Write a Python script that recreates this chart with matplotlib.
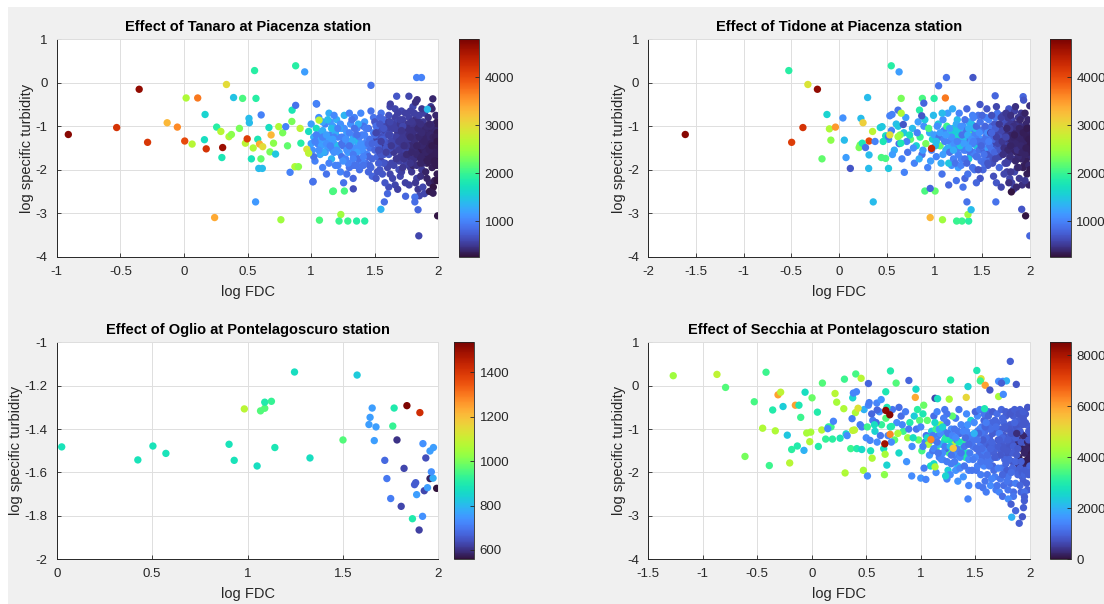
# scatter of specific turbidity vs flow duration, four stations, MATLAB look

import matplotlib.pyplot as plt
import numpy as np
from matplotlib.patches import Rectangle

plt.rcParams['font.family'] = 'Liberation Sans'
plt.rcParams['axes.unicode_minus'] = False

# ---------------- Tanaro at Piacenza ----------------
tanaro_x = [-0.909, -0.529, -0.352, -0.286, -0.132, -0.052, 0.006, 0.017, 0.064, 0.108,
            0.161, 0.166, 0.175, 0.241, 0.257, 0.29, 0.304, 0.298, 0.334, 0.354,
            0.373, 0.39, 0.436, 0.461, 0.483, 0.497, 0.511, 0.514, 0.53, 0.544,
            0.555, 0.563, 0.566, 0.58, 0.588, 0.616, 0.594, 0.607, 0.605, 0.619,
            0.668, 0.676, 0.685, 0.704, 0.72, 0.745, 0.762, 0.776, 0.80, 0.814,
            0.834, 0.848, 0.85, 0.878, 0.878, 0.872, 0.90, 0.913, 0.919, 0.949,
            0.966, 0.98, 0.98, 1.015, 1.043, 1.062, 1.175, 1.261, 1.233, 1.065,
            1.219, 1.288, 1.357, 1.421, 1.47, 1.829, 1.867, 1.846, 1.994, 1.84,
            1.548, 1.575, 1.672, 1.768, 1.833, 1.956, 1.914, 1.622, 1.04, 1.169,
            1.255, 1.331, 1.013, 1.60, 1.742, 1.815, 1.815, 1.958, 1.878, 1.82]
tanaro_y = [-1.19, -1.03, -0.15, -1.37, -0.92, -1.02, -1.34, -0.35, -1.41, -0.35,
            -1.31, -0.73, -1.52, -3.10, -1.02, -1.12, -1.49, -1.72, -0.04, -1.24,
            -1.19, -0.34, -1.05, -0.36, -1.39, -1.29, -0.82, -0.92, -1.75, -1.50,
            0.28, -2.74, -0.36, -1.30, -1.97, -1.97, -1.41, -0.74, -1.75, -1.47,
            -1.03, -1.59, -1.20, -1.39, -1.64, -1.01, -3.15, -1.15, -1.01, -1.45,
            -2.06, -0.89, -0.63, -0.52, 0.39, -1.93, -1.93, -1.05, -1.39, 0.25,
            -1.53, -1.62, -1.12, -2.27, -0.49, -0.86, -2.49, -2.49, -3.03, -3.16,
            -3.18, -3.18, -3.18, -3.18, -0.06, 0.12, 0.12, -3.52, -3.06, -2.92,
            -2.91, -2.74, -0.31, -0.31, -0.39, -0.37, -0.61, -0.49, -0.48, -2.50,
            -2.30, -2.44, -2.28, -2.55, -2.61, -2.63, -2.74, -2.54, -2.40, -0.45]
tanaro_q = [4700, 4200, 4650, 4150, 3300, 3600, 4000, 2600, 2650, 3700,
            1700, 1600, 4200, 3400, 1900, 2650, 4600, 1800, 3000, 2600,
            2400, 1450, 2300, 2100, 2700, 4100, 1400, 1400, 1750, 2600,
            1900, 1150, 1900, 1800, 1400, 1400, 3400, 1000, 2200, 3000,
            1700, 2300, 3300, 2400, 1500, 2600, 2500, 2300, 1000, 2200,
            1000, 2300, 1800, 900, 1900, 2600, 2400, 2700, 1900, 1200,
            2900, 2700, 1700, 900, 900, 2700, 2100, 2100, 2500, 2100,
            2000, 2000, 1900, 1900, 900, 1000, 1000, 600, 300, 800,
            1350, 850, 700, 600, 450, 400, 1400, 550, 1000, 2100,
            900, 650, 900, 800, 800, 900, 850, 350, 600, 450]

# dense cloud
tanaro_cloud_x = [1.00, 1.01, 1.02, 1.03, 1.04, 1.05, 1.06, 1.07, 1.08, 1.09,
                  1.10, 1.11, 1.12, 1.13, 1.14, 1.15, 1.16, 1.17, 1.18, 1.19,
                  1.20, 1.21, 1.22, 1.23, 1.24, 1.02, 1.06, 1.11, 1.15, 1.19,
                  1.04, 1.08, 1.13, 1.17, 1.21, 1.23, 1.09, 1.14, 1.18, 1.24,
                  1.25, 1.26, 1.27, 1.28, 1.29, 1.30, 1.31, 1.32, 1.33, 1.34,
                  1.35, 1.36, 1.37, 1.38, 1.39, 1.40, 1.41, 1.42, 1.43, 1.44,
                  1.45, 1.46, 1.47, 1.48, 1.49, 1.26, 1.29, 1.32, 1.35, 1.38,
                  1.41, 1.44, 1.47, 1.27, 1.30, 1.33, 1.36, 1.39, 1.42, 1.45,
                  1.28, 1.31, 1.34, 1.37, 1.40, 1.43, 1.46, 1.49, 1.33, 1.48,
                  1.50, 1.51, 1.52, 1.53, 1.54, 1.55, 1.56, 1.57, 1.58, 1.59,
                  1.60, 1.61, 1.62, 1.63, 1.64, 1.65, 1.66, 1.67, 1.68, 1.69,
                  1.70, 1.71, 1.72, 1.73, 1.74, 1.50, 1.53, 1.56, 1.59, 1.62,
                  1.65, 1.68, 1.71, 1.74, 1.51, 1.54, 1.57, 1.60, 1.63, 1.66,
                  1.69, 1.72, 1.52, 1.55, 1.58, 1.61, 1.64, 1.67, 1.70, 1.73,
                  1.55, 1.58, 1.61, 1.64, 1.67, 1.70, 1.73, 1.57, 1.63, 1.69,
                  1.52, 1.60, 1.66, 1.72, 1.54, 1.62, 1.68, 1.74, 1.58, 1.71,
                  1.75, 1.76, 1.77, 1.78, 1.79, 1.80, 1.81, 1.82, 1.83, 1.84,
                  1.85, 1.86, 1.87, 1.88, 1.89, 1.90, 1.91, 1.92, 1.93, 1.94,
                  1.95, 1.96, 1.97, 1.98, 1.99, 1.76, 1.79, 1.82, 1.85, 1.88,
                  1.91, 1.94, 1.97, 2.00, 1.77, 1.80, 1.83, 1.86, 1.89, 1.92,
                  1.95, 1.98, 2.00, 1.78, 1.81, 1.84, 1.87, 1.90, 1.93, 1.96,
                  1.99, 1.75, 1.78, 1.81, 1.84, 1.87, 1.90, 1.93, 1.96, 1.99,
                  1.76, 1.80, 1.83, 1.86, 1.89, 1.92, 1.95, 1.98, 2.00, 1.97,
                  1.79, 1.82, 1.88, 1.91, 1.94, 1.97, 2.00, 1.85, 1.99, 1.93,
                  1.76, 1.78, 1.80, 1.82, 1.84, 1.86, 1.88, 1.90, 1.92, 1.94,
                  1.96, 1.98, 2.00, 1.77, 1.79, 1.81, 1.83, 1.85, 1.87, 1.89,
                  1.91, 1.93, 1.95, 1.97, 1.99, 1.76, 1.80, 1.84, 1.88, 1.92,
                  1.96, 2.00, 1.78, 1.82, 1.86, 1.90, 1.94, 1.98, 1.81, 1.87,
                  1.93, 1.99, 1.64, 1.66, 1.68, 1.70, 1.72, 1.74, 1.62, 1.60,
                  1.58, 1.56, 1.54, 1.52, 1.50, 1.63, 1.67, 1.71, 1.75, 1.59,
                  1.55, 1.51, 1.65, 1.69, 1.73, 1.61, 1.57, 1.53, 1.68, 1.72,
                  1.46, 1.44, 1.42, 1.40, 1.38, 1.36, 1.34, 1.32, 1.30, 1.28,
                  1.26, 1.24, 1.22, 1.20, 1.18, 1.16, 1.14, 1.12, 1.10, 1.08,
                  1.45, 1.41, 1.37, 1.33, 1.29, 1.25, 1.21, 1.17, 1.13, 1.09,
                  1.51, 1.53, 1.55, 1.57, 1.59, 1.61, 1.63, 1.65, 1.67, 1.69,
                  1.71, 1.73, 1.75, 1.77, 1.79, 1.81, 1.83, 1.85, 1.87, 1.89,
                  1.91, 1.93, 1.95, 1.97, 1.99, 1.54, 1.62, 1.70, 1.78, 1.86,
                  1.00, 1.03, 1.06, 1.09, 1.12, 1.15, 1.18, 1.21, 1.24, 1.27,
                  1.30, 1.33, 1.36, 1.39, 1.42, 1.45, 1.48, 1.35, 1.41, 1.47]
tanaro_cloud_y = [-0.95, -1.55, -1.25, -1.80, -1.05, -1.40, -0.80, -1.65, -1.15, -1.95,
                  -1.30, -0.95, -2.10, -1.50, -0.70, -1.20, -1.75, -1.00, -1.40, -1.90,
                  -0.85, -1.25, -1.60, -2.05, -1.05, -1.70, -1.30, -1.60, -0.90, -1.15,
                  -1.20, -1.45, -1.30, -1.55, -1.45, -0.95, -0.90, -1.85, -0.75, -1.70,
                  -1.45, -0.75, -1.75, -1.15, -1.35, -1.95, -0.95, -1.55, -1.25, -0.80,
                  -1.70, -1.05, -1.40, -2.00, -0.70, -1.20, -1.60, -0.90, -1.85, -1.30,
                  -1.05, -1.50, -0.65, -1.75, -1.15, -1.05, -1.60, -0.85, -1.20, -1.50,
                  -1.00, -1.65, -1.35, -1.25, -0.70, -1.90, -1.30, -1.85, -1.45, -2.05,
                  -2.10, -1.40, -1.50, -0.95, -1.80, -1.05, -1.90, -0.80, -2.20, -2.15,
                  -0.90, -1.30, -1.70, -1.10, -2.00, -0.70, -1.50, -1.20, -1.85, -0.95,
                  -1.40, -1.65, -0.55, -1.05, -2.20, -1.30, -0.80, -1.75, -1.15, -2.00,
                  -1.45, -0.65, -1.25, -1.90, -1.00, -1.55, -1.45, -2.10, -1.60, -1.20,
                  -1.60, -0.90, -1.55, -2.30, -2.20, -1.25, -0.85, -1.05, -1.85, -2.35,
                  -1.20, -0.85, -1.00, -1.80, -1.40, -2.40, -0.95, -1.40, -2.15, -1.65,
                  -1.05, -1.10, -0.90, -1.50, -1.05, -0.95, -1.35, -1.65, -1.25, -1.80,
                  -2.05, -1.95, -0.60, -1.10, -0.80, -2.10, -2.45, -0.70, -2.30, -2.05,
                  -1.15, -1.60, -0.80, -1.95, -1.35, -0.55, -1.75, -1.05, -2.20, -1.45,
                  -0.90, -1.25, -2.00, -1.60, -0.70, -1.40, -1.85, -1.10, -2.30, -0.55,
                  -1.30, -1.70, -0.95, -1.50, -2.10, -1.35, -2.05, -0.85, -1.55, -1.05,
                  -1.55, -1.15, -2.25, -1.25, -2.35, -1.20, -1.65, -2.15, -1.20, -0.80,
                  -1.95, -0.75, -1.75, -0.65, -1.40, -2.45, -0.60, -2.05, -1.45, -1.05,
                  -1.45, -1.85, -1.50, -1.00, -1.25, -1.35, -1.05, -1.65, -2.40, -0.90,
                  -0.95, -1.90, -0.75, -1.75, -2.55, -1.30, -0.60, -1.90, -1.55, -1.60,
                  -1.15, -2.30, -1.85, -2.20, -1.80, -1.20, -1.00, -2.60, -2.25, -2.50,
                  -1.05, -1.45, -0.95, -1.60, -1.10, -1.45, -0.90, -1.75, -1.35, -1.00,
                  -1.40, -1.10, -1.90, -1.70, -0.90, -1.50, -1.90, -0.75, -1.70, -1.55,
                  -1.00, -1.20, -1.65, -1.35, -1.15, -1.25, -1.10, -1.05, -1.25, -1.65,
                  -1.25, -1.35, -1.85, -1.30, -0.95, -1.60, -1.40, -1.25, -0.70, -1.45,
                  -0.95, -1.65, -1.25, -1.45, -1.30, -1.70, -1.00, -1.55, -1.50, -1.20,
                  -1.35, -1.30, -1.60, -1.40, -1.20, -1.35, -1.25, -1.30, -1.45, -1.50,
                  -1.65, -1.00, -1.90, -1.55, -1.75, -0.75, -1.85, -1.85, -0.70, -1.95,
                  -1.30, -1.05, -1.40, -1.50, -1.25, -1.60, -1.05, -1.35, -1.15, -1.55,
                  -1.35, -1.25, -1.05, -1.55, -1.25, -1.05, -1.30, -1.40, -1.60, -1.30,
                  -1.70, -1.90, -1.75, -1.65, -1.85, -1.80, -1.90, -1.30, -0.85, -1.10,
                  -1.15, -1.55, -1.35, -1.05, -1.60, -1.20, -1.45, -1.05, -1.75, -1.35,
                  -1.10, -1.45, -1.65, -1.20, -1.60, -1.30, -1.45, -1.25, -1.15, -1.35,
                  -1.80, -1.55, -1.45, -1.80, -1.35, -0.95, -0.90, -0.85, -1.25, -1.85,
                  -1.40, -1.35, -1.55, -1.25, -1.20, -1.45, -1.60, -1.05, -1.40, -1.30,
                  -1.45, -1.75, -1.20, -1.40, -1.20, -1.40, -1.40, -1.90, -1.70, -1.95]
tanaro_cloud_q = [1200, 1100, 1300, 1000, 1700, 1000, 1100, 1250, 1300, 1000,
                  1450, 1000, 900, 1200, 1300, 1000, 1350, 1200, 1150, 1000,
                  1300, 1000, 1200, 1000, 1200, 900, 1100, 1050, 1150, 1300,
                  1000, 1200, 900, 1000, 1400, 1100, 1250, 1000, 1050, 900,
                  900, 1350, 1000, 1200, 1050, 900, 1100, 1000, 1300, 1000,
                  1150, 1000, 1300, 900, 1050, 1000, 1100, 1150, 900, 1050,
                  800, 900, 900, 800, 1000, 1100, 1200, 900, 1000, 1100,
                  900, 1000, 800, 1200, 1000, 900, 1400, 900, 1000, 800,
                  900, 1000, 1100, 1300, 1000, 1000, 800, 900, 800, 800,
                  700, 600, 800, 650, 700, 900, 600, 700, 650, 600,
                  550, 700, 600, 650, 600, 800, 550, 600, 500, 650,
                  550, 600, 500, 600, 550, 800, 750, 700, 900, 600,
                  500, 600, 450, 550, 700, 650, 800, 550, 600, 600,
                  500, 550, 900, 600, 500, 650, 550, 500, 600, 500,
                  650, 600, 550, 500, 550, 500, 450, 700, 500, 550,
                  700, 600, 600, 500, 800, 600, 550, 550, 700, 550,
                  500, 450, 550, 500, 400, 600, 450, 500, 550, 400,
                  450, 400, 500, 380, 550, 420, 350, 500, 400, 500,
                  400, 350, 450, 380, 320, 500, 500, 450, 350, 450,
                  400, 380, 350, 330, 550, 450, 400, 450, 380, 450,
                  350, 400, 300, 550, 450, 500, 500, 380, 360, 380,
                  320, 550, 450, 420, 400, 380, 400, 360, 300, 350,
                  500, 400, 500, 380, 600, 400, 400, 320, 320, 350,
                  450, 500, 420, 380, 350, 400, 350, 600, 300, 320,
                  450, 420, 480, 400, 450, 380, 500, 360, 400, 420,
                  380, 400, 330, 450, 500, 420, 450, 550, 380, 360,
                  420, 400, 350, 380, 330, 500, 450, 420, 380, 350,
                  360, 320, 480, 430, 450, 380, 360, 350, 550, 400,
                  400, 340, 650, 600, 550, 500, 600, 550, 650, 700,
                  700, 750, 650, 800, 850, 600, 550, 500, 480, 700,
                  700, 850, 600, 520, 480, 650, 700, 750, 560, 500,
                  900, 950, 1000, 1100, 1000, 1200, 900, 1300, 1000, 1100,
                  1200, 1000, 1300, 1100, 1000, 1400, 1200, 1100, 1300, 1200,
                  800, 900, 850, 950, 1000, 1100, 1000, 1200, 1400, 1300,
                  600, 650, 550, 700, 550, 600, 500, 550, 500, 500,
                  480, 450, 420, 450, 400, 430, 380, 400, 420, 380,
                  350, 360, 330, 320, 310, 700, 600, 550, 420, 380,
                  1200, 1000, 1100, 1000, 1200, 1000, 1100, 1000, 900, 1100,
                  900, 1000, 900, 1100, 1000, 900, 800, 900, 1000, 800]

# ---------------- Tidone at Piacenza ----------------
tidone_x = [-1.611, -0.526, -0.326, -0.226, -0.378, -0.496, -0.126, -0.10, -0.037, -0.085,
            -0.178, 0.041, 0.056, 0.074, 0.119, 0.30, 0.23, 0.252, 0.315, 0.211,
            0.222, 0.244, 0.278, 0.315, 0.311, 0.359, 0.352, 0.378, 0.433, 0.452,
            0.444, 0.489, 0.463, 0.489, 0.519, 0.533, 0.519, 0.548, 0.63, 0.533,
            0.556, 0.619, 0.652, 0.652, 0.619, 0.648, 0.685, 0.674, 0.874, 0.889,
            0.844, 0.867, 0.997, 1.115, 1.044, 1.126, 1.404, 1.081, 0.97, 0.90,
            1.007, 0.956, 0.956, 1.085, 1.233, 1.289, 1.359, 1.352, 1.385, 1.341,
            1.644, 1.637, 1.478, 1.807, 1.956, 1.915, 2.0, 2.0, 1.93, 1.935]
tidone_y = [-1.19, 0.28, -0.04, -0.15, -1.03, -1.37, -0.73, -1.06, -1.02, -1.32,
            -1.75, -0.81, -1.32, -1.72, -1.97, -0.34, -0.82, -0.92, -1.34, -1.49,
            -1.43, -1.39, -1.49, -1.66, -1.97, -2.74, -1.12, -1.35, -1.03, -1.01,
            -1.72, -1.74, -1.35, -1.22, -1.24, -1.20, -1.97, 0.39, 0.25, -0.76,
            -0.73, -0.63, -0.36, -0.70, -1.24, -1.39, -2.06, -0.96, -0.36, -0.47,
            -0.63, -0.76, -0.36, -0.35, -0.07, 0.12, 0.12, -0.70, -1.51, -2.49,
            -2.49, -2.43, -3.10, -3.15, -3.18, -3.18, -3.18, -3.03, -2.92, -2.74,
            -2.74, -0.30, -0.50, -2.51, -3.06, -2.91, -3.52, -0.53, -0.32, -0.40]
tidone_q = [4700, 1900, 2900, 4650, 4200, 4100, 1600, 2600, 3500, 2400,
            2200, 1100, 1400, 1200, 700, 1400, 1400, 3100, 4000, 2300,
            2300, 1800, 900, 1400, 1400, 1400, 2700, 1000, 1600, 1500,
            2100, 2100, 1800, 1700, 900, 3000, 1500, 1900, 1200, 1000,
            1000, 900, 2300, 2600, 2500, 1800, 1000, 700, 2100, 800,
            1900, 700, 1900, 3700, 900, 900, 700, 1400, 4300, 2100,
            2200, 800, 3300, 2500, 2000, 2000, 1900, 2500, 1400, 900,
            900, 800, 700, 300, 300, 700, 800, 450, 800, 700]

tidone_cloud_x = [0.52, 0.55, 0.58, 0.60, 0.63, 0.66, 0.68, 0.70, 0.72, 0.75,
                  0.77, 0.79, 0.81, 0.83, 0.85, 0.87, 0.89, 0.91, 0.93, 0.95,
                  0.97, 0.99, 0.56, 0.64, 0.71, 0.78, 0.84, 0.90, 0.96, 0.62,
                  0.74, 0.82, 0.88, 0.94, 0.98,
                  1.00, 1.02, 1.04, 1.06, 1.08, 1.10, 1.12, 1.14, 1.16, 1.18,
                  1.20, 1.22, 1.24, 1.26, 1.28, 1.30, 1.32, 1.34, 1.36, 1.38,
                  1.40, 1.42, 1.44, 1.46, 1.48, 1.01, 1.05, 1.09, 1.13, 1.17,
                  1.21, 1.25, 1.29, 1.33, 1.37, 1.41, 1.45, 1.49, 1.03, 1.07,
                  1.11, 1.15, 1.19, 1.23, 1.27, 1.31, 1.35, 1.39, 1.43, 1.47,
                  1.09, 1.19, 1.26, 1.34, 1.41, 1.48, 1.15, 1.30, 1.44, 1.36,
                  1.50, 1.52, 1.54, 1.56, 1.58, 1.60, 1.62, 1.64, 1.66, 1.68,
                  1.70, 1.72, 1.74, 1.76, 1.78, 1.80, 1.82, 1.84, 1.86, 1.88,
                  1.90, 1.92, 1.94, 1.96, 1.98, 2.00, 1.51, 1.55, 1.59, 1.63,
                  1.67, 1.71, 1.75, 1.79, 1.83, 1.87, 1.91, 1.95, 1.99, 1.53,
                  1.57, 1.61, 1.65, 1.69, 1.73, 1.77, 1.81, 1.85, 1.89, 1.93,
                  1.97, 1.54, 1.58, 1.62, 1.66, 1.70, 1.74, 1.78, 1.82, 1.86,
                  1.90, 1.94, 1.98, 2.00, 1.76, 1.80, 1.84, 1.88, 1.92, 1.96,
                  1.99, 1.73, 1.77, 1.81, 1.85, 1.89, 1.93, 1.97, 1.83, 1.87,
                  1.91, 1.95, 1.79, 1.64, 1.68, 1.72, 1.60, 1.56, 1.99, 1.95,
                  1.76, 1.78, 1.80, 1.82, 1.84, 1.86, 1.88, 1.90, 1.92, 1.94,
                  1.96, 1.98, 2.00, 1.77, 1.79, 1.81, 1.83, 1.85, 1.87, 1.89,
                  1.91, 1.93, 1.95, 1.97, 1.99, 1.62, 1.66, 1.70, 1.74, 1.58,
                  1.54, 1.50, 1.64, 1.68, 1.72, 1.56, 1.52, 1.60, 1.76, 1.80,
                  1.46, 1.42, 1.38, 1.34, 1.30, 1.26, 1.22, 1.18, 1.14, 1.10,
                  1.06, 1.02, 1.44, 1.40, 1.36, 1.32, 1.28, 1.24, 1.20, 1.16,
                  1.51, 1.53, 1.55, 1.57, 1.59, 1.61, 1.63, 1.65, 1.67, 1.69,
                  1.71, 1.73, 1.75, 1.77, 1.79, 1.81, 1.83, 1.85, 1.87, 1.89,
                  1.91, 1.93, 1.95, 1.97, 1.99, 1.52, 1.56, 1.60, 1.64, 1.68,
                  1.72, 1.76, 1.80, 1.84, 1.88, 1.92, 1.96, 2.00, 1.78, 1.86,
                  1.21, 1.23, 1.25, 1.27, 1.29, 1.31, 1.33, 1.35, 1.37, 1.39,
                  1.41, 1.43, 1.45, 1.47, 1.49, 1.22, 1.28, 1.34, 1.40, 1.46,
                  1.12, 1.16, 1.20, 1.24, 1.28, 1.32, 1.36, 1.40, 1.44, 1.48,
                  1.50, 1.55, 1.60, 1.65, 1.70, 1.75, 1.80, 1.85, 1.90, 1.95]
tidone_cloud_y = [-1.30, -1.10, -1.55, -0.95, -1.40, -1.75, -1.15, -0.80, -1.60, -1.30,
                  -1.05, -1.85, -1.45, -0.90, -1.25, -1.65, -1.00, -1.40, -1.95, -1.15,
                  -1.55, -0.75, -1.65, -1.20, -1.35, -1.50, -1.75, -0.85, -1.80, -1.00,
                  -1.20, -1.15, -1.55, -1.05, -1.30,
                  -1.20, -1.70, -0.95, -1.45, -2.10, -1.10, -1.55, -0.70, -1.35, -1.90,
                  -1.05, -1.50, -0.85, -1.25, -1.75, -1.00, -2.20, -1.40, -0.90, -1.65,
                  -1.15, -2.00, -1.45, -0.75, -1.30, -1.45, -1.25, -1.65, -1.00, -1.15,
                  -1.30, -1.95, -1.50, -1.10, -1.20, -1.60, -1.05, -1.80, -1.00, -1.85,
                  -1.35, -1.85, -1.45, -2.25, -1.05, -1.55, -2.10, -0.95, -1.25, -1.55,
                  -0.85, -0.60, -0.70, -0.60, -0.80, -2.20, -2.35, -2.40, -2.30, -1.75,
                  -1.10, -1.55, -0.80, -1.90, -1.30, -1.00, -2.15, -1.45, -0.70, -1.70,
                  -1.20, -0.90, -1.85, -1.40, -0.60, -1.60, -1.05, -2.05, -1.30, -0.80,
                  -1.50, -1.15, -1.90, -0.95, -1.35, -1.70, -2.00, -1.20, -1.70, -0.95,
                  -1.35, -1.60, -0.95, -2.20, -1.40, -1.95, -0.70, -1.55, -1.05, -1.35,
                  -0.85, -1.40, -2.30, -1.05, -1.30, -1.80, -0.85, -1.15, -2.20, -1.30,
                  -2.10, -1.75, -1.05, -1.75, -1.15, -2.40, -1.10, -1.15, -1.75, -1.60,
                  -1.00, -1.60, -0.85, -1.20, -2.05, -1.30, -0.65, -1.45, -2.35, -1.80,
                  -2.35, -2.10, -1.00, -2.30, -0.95, -1.20, -0.75, -1.50, -2.45, -1.05,
                  -1.75, -1.25, -0.85, -0.80, -1.95, -0.75, -1.25, -1.50, -1.55, -2.25,
                  -1.25, -1.50, -0.95, -1.35, -1.55, -1.00, -1.70, -1.25, -1.05, -1.40,
                  -1.15, -1.60, -1.45, -0.80, -1.70, -1.20, -1.00, -1.80, -1.35, -1.60,
                  -1.30, -1.95, -1.05, -1.25, -1.30, -1.30, -1.50, -1.10, -1.60, -1.45,
                  -1.25, -1.45, -1.05, -1.25, -1.40, -1.15, -1.85, -1.55, -1.85, -2.05,
                  -1.35, -1.20, -1.40, -1.25, -1.30, -1.50, -1.20, -1.25, -1.50, -1.30,
                  -1.15, -1.35, -1.70, -1.40, -1.05, -1.75, -1.40, -1.10, -1.75, -1.05,
                  -1.35, -1.00, -1.65, -1.35, -1.15, -1.85, -1.60, -1.25, -1.40, -1.55,
                  -1.35, -1.50, -1.25, -1.55, -1.05, -1.45, -1.25, -1.40, -1.55, -1.05,
                  -1.45, -1.15, -1.65, -1.05, -1.90, -1.65, -1.85, -1.15, -1.75, -0.95,
                  -1.65, -1.05, -1.45, -1.20, -1.95, -1.60, -1.50, -2.00, -2.30, -2.40,
                  -1.40, -0.95, -1.65, -1.45, -1.20, -1.40, -1.55, -1.20, -1.55, -1.30,
                  -1.35, -1.05, -1.70, -1.15, -1.45, -1.85, -1.90, -1.85, -1.95, -2.00,
                  -1.20, -1.60, -1.55, -1.35, -1.00, -0.85, -1.50, -0.75, -1.00, -0.90,
                  -0.75, -0.60, -0.75, -0.55, -0.80, -0.70, -0.75, -0.55, -0.85, -0.70]
tidone_cloud_q = [1100, 1000, 1300, 1400, 900, 1000, 1500, 1200, 900, 2200,
                  1400, 1000, 1600, 1200, 2000, 900, 1100, 2300, 1000, 1300,
                  1000, 1400, 1200, 2300, 1000, 1100, 1300, 1500, 1200, 1500,
                  1700, 1000, 1200, 2100, 1600,
                  1200, 1000, 1500, 2200, 900, 1000, 1300, 1200, 1000, 1100,
                  1600, 900, 1400, 1800, 1000, 1100, 800, 1000, 1300, 900,
                  1000, 900, 1500, 900, 1100, 1400, 900, 1200, 2000, 1500,
                  1000, 1200, 1400, 900, 2100, 1000, 800, 900, 1100, 1300,
                  1000, 1500, 1200, 900, 1300, 1000, 900, 1400, 1000, 900,
                  1100, 1300, 1000, 800, 1000, 700, 800, 900, 800, 1500,
                  900, 800, 1000, 700, 1300, 800, 650, 1000, 900, 600,
                  550, 700, 600, 500, 700, 450, 550, 600, 450, 500,
                  400, 450, 380, 400, 350, 400, 800, 1100, 700, 700,
                  800, 500, 650, 600, 400, 450, 500, 380, 380, 900,
                  1000, 600, 700, 500, 450, 550, 550, 400, 500, 400,
                  350, 900, 900, 700, 600, 600, 500, 450, 500, 380,
                  450, 380, 400, 350, 550, 400, 550, 380, 450, 350,
                  380, 600, 500, 550, 450, 400, 450, 350, 600, 400,
                  380, 350, 600, 900, 800, 600, 1000, 1200, 350, 500,
                  450, 420, 500, 400, 380, 480, 420, 400, 450, 380,
                  360, 350, 330, 500, 430, 400, 450, 400, 380, 360,
                  380, 350, 400, 350, 330, 800, 700, 600, 500, 900,
                  900, 1000, 750, 650, 600, 1100, 850, 900, 550, 500,
                  900, 1000, 1200, 900, 1400, 1000, 1600, 1100, 1300, 1000,
                  1200, 1400, 900, 1000, 1300, 900, 1100, 1500, 1000, 1200,
                  900, 800, 700, 1000, 600, 650, 800, 550, 600, 700,
                  500, 450, 600, 400, 500, 450, 380, 400, 450, 380,
                  400, 350, 380, 330, 400, 900, 700, 800, 600, 500,
                  450, 400, 380, 350, 400, 380, 350, 330, 450, 400,
                  1100, 1300, 1000, 1500, 900, 1200, 1000, 1300, 900, 1100,
                  1000, 1400, 900, 1100, 800, 900, 1000, 800, 900, 700,
                  1200, 900, 1300, 1000, 1100, 900, 1200, 1000, 800, 900,
                  800, 700, 650, 600, 550, 500, 450, 450, 400, 380]

# ---------------- Oglio at Pontelagoscuro ----------------
oglio_x = [0.026, 0.425, 0.504, 0.572, 0.903, 0.930, 0.983, 1.050, 1.068, 1.090,
           1.090, 1.125, 1.143, 1.246, 1.327, 1.500, 1.574, 1.653, 1.642, 1.636,
           1.673, 1.664, 1.768, 1.761, 1.783, 1.835, 1.903, 1.719, 1.730, 1.750,
           1.805, 1.820, 1.875, 1.881, 1.886, 1.864, 1.899, 1.919, 1.934, 1.926,
           1.943, 1.956, 1.972, 1.917, 1.956, 1.974, 1.963, 1.991]
oglio_y = [-1.482, -1.542, -1.478, -1.512, -1.470, -1.544, -1.307, -1.570, -1.316, -1.304,
           -1.276, -1.272, -1.485, -1.137, -1.533, -1.450, -1.151, -1.303, -1.346, -1.379,
           -1.390, -1.453, -1.303, -1.386, -1.450, -1.292, -1.324, -1.544, -1.628, -1.720,
           -1.756, -1.581, -1.656, -1.647, -1.702, -1.813, -1.865, -1.467, -1.533, -1.684,
           -1.670, -1.628, -1.626, -1.802, -1.501, -1.485, -1.597, -1.673]
oglio_q = [880, 880, 880, 880, 880, 880, 1080, 870, 960, 960,
           900, 930, 890, 870, 870, 960, 830, 760, 760, 760,
           760, 760, 900, 930, 600, 1530, 1420, 680, 700, 710,
           630, 630, 660, 660, 760, 900, 620, 740, 640, 630,
           760, 580, 780, 740, 760, 760, 740, 560]

# ---------------- Secchia at Pontelagoscuro ----------------
secchia_x = [-1.270, -0.869, -0.790, -0.612, -0.527, -0.419, -0.45, -0.389, -0.358, -0.334,
             -0.309, -0.285, -0.263, -0.224, -0.202, -0.184, -0.150, -0.117, -0.132, -0.101,
             -0.071, -0.061, -0.046, -0.018, -0.009, 0.003, 0.052, 0.061, 0.092, 0.098,
             0.128, 0.153, 0.177, 0.19, 0.214, 0.229, 0.199, 0.147, 0.26, 0.294,
             0.300, 0.306, 0.315, 0.325, 0.358, 0.376, 0.382, 0.410, 0.404, 0.376,
             0.392, 0.401, 0.425, 0.413, 0.453, 0.37, 0.444, 0.459, 0.474, 0.511,
             0.520, 0.527, 0.535, 0.554, 0.575, 0.597, 0.60, 0.637, 0.667, 0.679,
             0.716, 0.670, 0.679, 0.722, 0.774, 0.719, 0.673, 0.689, 0.732, 0.80,
             0.891, 0.95, 0.956, 1.027, 1.131, 1.154, 1.274, 1.261, 1.433, 1.417,
             1.514, 1.553, 1.546, 1.591, 1.634, 1.714, 1.753, 1.786, 1.740, 1.821,
             1.876, 1.714, 1.757, 1.585, 1.802, 1.828, 1.870, 1.834, 1.932, 1.903,
             1.942, 1.951, 1.433, 0.917, 1.0, 1.047, 1.228, 1.131, 1.093, 1.298]
secchia_y = [0.23, 0.26, -0.04, -1.63, -0.37, 0.31, -0.98, -1.84, -0.56, -1.04,
             -0.21, -0.15, -0.48, -1.14, -1.78, -1.47, -0.45, -0.45, -1.39, -0.73,
             -1.49, -0.15, -1.09, -1.29, -1.07, -0.28, -0.61, -1.40, -1.02, 0.06,
             -1.23, -0.95, -0.95, -1.23, -0.18, -0.38, -0.82, -0.99, -1.21, -0.53,
             0.15, -2.01, -1.11, -1.15, -1.45, -0.28, -0.17, -0.14, 0.27, -1.03,
             -1.02, -0.62, -0.52, -1.45, 0.17, -0.76, -0.90, -1.47, -1.95, -2.08,
             0.05, -0.39, -1.26, -1.67, -0.90, -0.40, -0.56, -0.32, -2.05, -0.57,
             -0.67, -1.34, -0.14, 0.34, 0.06, -1.12, -1.58, -1.83, -0.94, -0.50,
             0.12, -0.27, -0.08, -0.45, -0.29, -0.30, 0.13, -0.31, -0.02, -0.27,
             0.35, 0.16, 0.11, 0.01, -0.10, 0.10, 0.10, 0.11, 0.06, 0.56,
             0.03, -0.25, -0.20, -0.53, -2.61, -2.73, -2.88, -3.03, -3.02, -3.17,
             -2.81, -2.56, -2.61, -2.08, -2.13, -2.16, -2.08, -1.87, -1.24, -1.44]
secchia_q = [4200, 4600, 3500, 3800, 3400, 3300, 4400, 3300, 3000, 4400,
             6000, 4600, 2400, 2300, 4500, 3100, 6000, 2900, 3000, 3300,
             2000, 2700, 4300, 4400, 4300, 3700, 3000, 3000, 4500, 3500,
             3200, 3100, 3300, 3100, 4500, 4300, 1400, 1500, 2900, 4400,
             3300, 4400, 2500, 1500, 3300, 2500, 1400, 1400, 3400, 4600,
             4600, 4400, 5000, 3000, 4500, 1300, 1300, 2600, 4300, 1500,
             1000, 1300, 1400, 4400, 2700, 1400, 1000, 1600, 4000, 8300,
             8400, 8100, 2900, 3000, 3500, 6300, 4300, 2500, 3000, 1100,
             1000, 5900, 2600, 3700, 600, 2700, 3000, 4300, 2500, 5200,
             2900, 5000, 3300, 6000, 800, 1500, 1500, 2000, 900, 900,
             800, 4300, 1500, 2900, 1500, 900, 1000, 2000, 800, 900,
             900, 900, 1400, 1500, 1600, 1400, 2500, 4400, 6300, 5500]

secchia_cloud_x = [0.46, 0.48, 0.50, 0.52, 0.54, 0.56, 0.58, 0.60, 0.62, 0.64,
                   0.66, 0.68, 0.70, 0.72, 0.74, 0.76, 0.78, 0.80, 0.82, 0.84,
                   0.86, 0.88, 0.90, 0.92, 0.94, 0.96, 0.98, 0.51, 0.59, 0.69,
                   0.79, 0.89, 0.97, 0.63, 0.73, 0.83, 0.93, 0.55, 0.87, 0.99,
                   1.00, 1.02, 1.04, 1.06, 1.08, 1.10, 1.12, 1.14, 1.16, 1.18,
                   1.20, 1.22, 1.24, 1.26, 1.28, 1.30, 1.32, 1.34, 1.36, 1.38,
                   1.40, 1.42, 1.44, 1.46, 1.48, 1.01, 1.05, 1.09, 1.13, 1.17,
                   1.21, 1.25, 1.29, 1.33, 1.37, 1.41, 1.45, 1.49, 1.03, 1.07,
                   1.11, 1.15, 1.19, 1.23, 1.27, 1.31, 1.35, 1.39, 1.43, 1.47,
                   1.14, 1.24, 1.34, 1.44, 1.12, 1.22, 1.32, 1.42, 1.28, 1.38,
                   1.50, 1.52, 1.54, 1.56, 1.58, 1.60, 1.62, 1.64, 1.66, 1.68,
                   1.70, 1.72, 1.74, 1.76, 1.78, 1.80, 1.82, 1.84, 1.86, 1.88,
                   1.90, 1.92, 1.94, 1.96, 1.98, 2.00, 1.51, 1.55, 1.59, 1.63,
                   1.67, 1.71, 1.75, 1.79, 1.83, 1.87, 1.91, 1.95, 1.99, 1.53,
                   1.57, 1.61, 1.65, 1.69, 1.73, 1.77, 1.81, 1.85, 1.89, 1.93,
                   1.97, 1.54, 1.58, 1.62, 1.66, 1.70, 1.74, 1.78, 1.82, 1.86,
                   1.90, 1.94, 1.98, 2.00, 1.76, 1.80, 1.84, 1.88, 1.92, 1.96,
                   1.99, 1.73, 1.77, 1.81, 1.85, 1.89, 1.93, 1.97, 1.64, 1.60,
                   1.95, 1.97, 1.91, 2.00, 1.98, 1.94, 1.56, 1.52, 1.68, 1.72,
                   1.76, 1.78, 1.80, 1.82, 1.84, 1.86, 1.88, 1.90, 1.92, 1.94,
                   1.96, 1.98, 2.00, 1.77, 1.79, 1.81, 1.83, 1.85, 1.87, 1.89,
                   1.91, 1.93, 1.95, 1.97, 1.99, 1.62, 1.66, 1.70, 1.74, 1.58,
                   1.54, 1.50, 1.64, 1.68, 1.72, 1.56, 1.52, 1.60, 1.76, 1.80,
                   1.46, 1.42, 1.38, 1.34, 1.30, 1.26, 1.22, 1.18, 1.14, 1.10,
                   1.06, 1.02, 1.44, 1.40, 1.36, 1.32, 1.28, 1.24, 1.20, 1.16,
                   1.51, 1.53, 1.55, 1.57, 1.59, 1.61, 1.63, 1.65, 1.67, 1.69,
                   1.71, 1.73, 1.75, 1.77, 1.79, 1.81, 1.83, 1.85, 1.87, 1.89,
                   1.91, 1.93, 1.95, 1.97, 1.99, 1.52, 1.56, 1.60, 1.64, 1.68,
                   1.72, 1.76, 1.80, 1.84, 1.88, 1.92, 1.96, 2.00, 1.55, 1.59,
                   1.63, 1.67, 1.71, 1.75, 1.79, 1.83, 1.87, 1.91, 1.95, 1.99,
                   1.11, 1.13, 1.15, 1.17, 1.19, 1.21, 1.23, 1.25, 1.27, 1.29,
                   1.31, 1.33, 1.35, 1.37, 1.39, 1.41, 1.43, 1.45, 1.47, 1.49,
                   1.12, 1.16, 1.20, 1.24, 1.28, 1.32, 1.36, 1.40, 1.44, 1.48,
                   1.50, 1.54, 1.58, 1.62, 1.66, 1.70, 1.74, 1.78, 1.82, 1.86,
                   1.90, 1.94, 1.98, 1.60, 1.70, 1.80, 1.65, 1.75, 1.85, 1.95]
secchia_cloud_y = [-0.95, -0.55, -1.20, -0.45, -1.50, -0.80, -1.05, -1.30, -0.60, -0.90,
                   -1.45, -0.75, -1.15, -0.95, -0.55, -1.25, -0.85, -1.55, -0.70, -1.05,
                   -0.60, -1.20, -0.85, -1.40, -0.70, -1.00, -1.25, -0.95, -0.85, -0.50,
                   -1.10, -1.00, -0.55, -1.15, -1.30, -0.90, -1.20, -0.65, -1.75, -0.80,
                   -0.95, -0.65, -1.30, -0.80, -1.60, -1.05, -0.70, -1.45, -1.15, -0.90,
                   -1.70, -1.25, -0.85, -1.55, -1.00, -1.35, -0.75, -1.85, -1.10, -1.50,
                   -0.95, -1.25, -1.95, -0.80, -1.40, -1.50, -1.15, -1.85, -1.25, -1.65,
                   -1.05, -1.95, -0.70, -1.25, -0.90, -1.65, -1.15, -0.85, -1.90, -1.35,
                   -1.50, -0.60, -1.35, -1.45, -2.05, -1.75, -0.55, -2.10, -1.55, -1.95,
                   -2.00, -2.15, -2.20, -2.30, -1.80, -0.55, -1.60, -0.65, -1.20, -1.30,
                   -1.20, -0.70, -1.55, -0.95, -1.85, -1.35, -0.60, -1.70, -1.10, -2.10,
                   -0.85, -1.45, -1.90, -1.15, -0.70, -1.60, -2.25, -1.00, -1.35, -1.95,
                   -0.80, -1.10, -2.20, -0.65, -2.00, -0.95, -1.95, -1.30, -1.05, -1.20,
                   -1.50, -1.25, -0.75, -1.40, -0.60, -1.55, -1.35, -1.75, -1.50, -2.30,
                   -2.35, -2.05, -0.85, -2.40, -1.00, -2.05, -1.20, -2.45, -1.25, -1.45,
                   -1.20, -1.00, -0.80, -1.55, -1.85, -1.05, -1.35, -1.80, -0.90, -1.15,
                   -1.65, -1.85, -1.70, -1.40, -2.30, -1.00, -1.75, -0.95, -2.45, -1.55,
                   -1.85, -2.15, -1.55, -1.35, -0.70, -1.80, -2.10, -2.25, -2.30, -1.75,
                   -1.30, -0.90, -0.55, -1.10, -2.40, -0.75, -1.65, -1.05, -1.45, -2.45,
                   -1.25, -1.00, -1.45, -1.15, -1.55, -0.85, -1.60, -1.05, -1.30, -1.15,
                   -0.85, -1.30, -1.65, -1.70, -1.95, -1.00, -1.30, -1.95, -1.20, -2.05,
                   -1.90, -2.00, -2.05, -1.45, -1.05, -0.95, -1.35, -1.65, -1.55, -1.50,
                   -1.40, -1.65, -1.00, -0.80, -1.10, -1.10, -1.85, -1.20, -0.85, -2.10,
                   -1.15, -1.05, -1.45, -1.05, -1.55, -1.25, -1.40, -1.10, -1.00, -1.25,
                   -1.20, -1.40, -1.70, -1.40, -1.65, -1.95, -1.80, -0.65, -1.55, -1.35,
                   -1.45, -1.10, -1.75, -1.25, -0.95, -1.60, -1.40, -1.30, -1.55, -0.95,
                   -1.40, -1.60, -1.20, -0.95, -1.50, -1.70, -1.10, -1.40, -1.75, -1.45,
                   -1.05, -0.90, -1.55, -1.75, -1.25, -1.25, -1.45, -0.85, -1.45, -1.65,
                   -1.25, -1.45, -1.25, -1.90, -1.10, -1.75, -1.95, -1.85, -2.05, -2.20,
                   -1.85, -1.95, -1.90, -2.05, -2.20, -2.00, -2.25, -2.30, -2.45, -2.05,
                   -1.15, -0.85, -1.30, -1.00, -1.70, -0.75, -1.20, -1.10, -1.40, -1.15,
                   -1.00, -1.45, -1.30, -1.55, -1.05, -1.20, -0.90, -1.55, -1.30, -1.10,
                   -1.45, -1.55, -0.95, -1.75, -1.60, -1.20, -1.90, -1.85, -1.35, -1.70,
                   -0.60, -0.55, -0.65, -0.70, -0.60, -0.65, -0.55, -0.60, -0.65, -0.55,
                   -0.65, -0.60, -0.50, -2.45, -2.30, -2.40, -2.15, -2.55, -2.55, -2.65]
secchia_cloud_q = [1300, 2000, 1500, 1400, 2800, 1300, 2500, 1500, 1600, 3200,
                   2700, 3500, 1400, 2900, 1200, 3600, 1500, 2600, 1100, 3300,
                   1300, 4200, 3000, 1500, 2400, 1200, 3700, 3300, 1100, 2900,
                   4300, 1300, 3100, 1200, 1500, 1400, 2700, 1000, 1600, 3500,
                   1400, 2900, 1300, 3600, 1600, 2400, 1100, 3400, 1300, 4300,
                   1500, 2800, 1200, 3300, 1500, 4200, 1300, 2200, 1100, 2600,
                   1200, 1500, 1300, 2500, 1200, 3400, 1200, 2700, 1500, 1300,
                   1300, 2400, 3600, 1200, 1400, 3000, 1100, 1500, 1300, 4400,
                   1200, 1400, 2300, 1100, 1500, 1300, 1200, 1600, 2800, 1200,
                   1500, 1400, 1600, 1400, 2600, 1200, 1300, 1500, 1200, 3200,
                   1300, 1500, 1100, 1200, 1400, 1000, 1100, 1200, 900, 1300,
                   1000, 900, 1200, 850, 900, 800, 1100, 900, 800, 1000,
                   900, 800, 900, 850, 900, 800, 1200, 1000, 1100, 900,
                   1000, 800, 1000, 900, 850, 800, 200, 150, 100, 1300,
                   1200, 1200, 1000, 1300, 900, 1000, 800, 1100, 300, 150,
                   200, 1400, 1000, 1100, 1000, 900, 850, 1000, 900, 700,
                   150, 250, 120, 100, 1100, 900, 800, 800, 1000, 100,
                   200, 1200, 800, 850, 900, 400, 950, 900, 1500, 1200,
                   1000, 900, 900, 800, 900, 850, 1100, 1300, 1000, 1400,
                   900, 850, 800, 950, 900, 1000, 850, 900, 800, 250,
                   850, 200, 150, 1000, 900, 850, 800, 950, 900, 1000,
                   950, 900, 1000, 200, 850, 1100, 1000, 1200, 950, 1300,
                   1200, 1400, 1100, 1000, 1300, 1200, 1300, 1100, 1000, 1200,
                   1300, 1400, 2400, 1200, 1500, 2800, 1300, 1500, 3300, 1400,
                   2600, 1300, 1500, 1200, 1400, 1600, 1300, 1200, 1500, 2000,
                   1100, 1000, 1200, 900, 1000, 1100, 900, 1000, 950, 1100,
                   900, 850, 1000, 900, 850, 1000, 800, 900, 1000, 850,
                   900, 850, 200, 150, 800, 1200, 1100, 1300, 1000, 900,
                   900, 850, 900, 1000, 300, 950, 900, 1000, 1300, 1200,
                   1200, 1100, 1300, 1000, 1200, 1100, 1300, 1000, 1100, 900,
                   1300, 2600, 1200, 1800, 1400, 1300, 3000, 1200, 2200, 1400,
                   1200, 1300, 2700, 1200, 1400, 1100, 1600, 1300, 1200, 2000,
                   1400, 1200, 2500, 1300, 1200, 1500, 1400, 1200, 1100, 1300,
                   1000, 1300, 1200, 1000, 900, 1100, 1000, 900, 850, 900,
                   850, 900, 800, 1300, 1200, 1200, 1400, 1100, 1200, 900]

# ---------------- figure ----------------
txt = '#262626'
W, H = 1104, 604

fig = plt.figure(figsize=(W / 100, H / 100), dpi=100, facecolor='white')
fig.patches.append(Rectangle((8 / W, 0), 1, 1 - 7 / H, transform=fig.transFigure,
                             facecolor='#f0f0f0', edgecolor='none', zorder=-10))


def make_panel(rect, crect, x, y, q, clim, xt, yt, ct, title, ylab):
    ax = fig.add_axes(rect)
    cax = fig.add_axes(crect)
    sc = ax.scatter(x, y, c=q, cmap='turbo', vmin=clim[0], vmax=clim[1],
                    s=28, linewidths=0, zorder=3)
    ax.set_xlim(xt[0], xt[-1])
    ax.set_ylim(yt[0], yt[-1])
    ax.set_xticks(xt)
    ax.set_yticks(yt)
    ax.set_xticklabels([f'{v:g}' for v in xt])
    ax.set_yticklabels([f'{v:g}' for v in yt])
    ax.grid(True, color='#dedede', linewidth=0.7)
    ax.set_axisbelow(True)
    ax.tick_params(direction='in', length=3, width=0.6, colors=txt,
                   labelsize=9.5, pad=6.5)
    for s in ['left', 'bottom']:
        ax.spines[s].set_color(txt)
        ax.spines[s].set_linewidth(0.7)
    for s in ['top', 'right']:
        ax.spines[s].set_color('#dedede')
        ax.spines[s].set_linewidth(0.7)
    ax.set_title(title, fontsize=10.5, fontweight='bold', color='black', pad=6)
    ax.set_xlabel('log FDC', fontsize=10.5, color=txt, labelpad=5)
    ax.set_ylabel(ylab, fontsize=10.5, color=txt, labelpad=1)

    cb = fig.colorbar(sc, cax=cax, ticks=ct)
    cb.ax.tick_params(direction='in', length=3, width=0.6, colors=txt,
                      labelsize=9.5, pad=4)
    cb.outline.set_edgecolor(txt)
    cb.outline.set_linewidth(0.6)
    cb.ax.set_yticklabels([f'{v:g}' for v in ct])
    return ax


top_b, top_h = 0.575, 0.360
bot_b, bot_h = 0.074, 0.3593

make_panel([0.0514, top_b, 0.3457, top_h], [0.4156, top_b, 0.0184, top_h],
           tanaro_cloud_x + tanaro_x, tanaro_cloud_y + tanaro_y, tanaro_cloud_q + tanaro_q,
           (265, 4785), [-1, -0.5, 0, 0.5, 1, 1.5, 2], [-4, -3, -2, -1, 0, 1],
           [1000, 2000, 3000, 4000],
           'Effect of Tanaro at Piacenza station', 'log specific turbidity')

make_panel([0.5871, top_b, 0.3457, top_h], [0.9514, top_b, 0.0185, top_h],
           tidone_cloud_x + tidone_x, tidone_cloud_y + tidone_y, tidone_cloud_q + tidone_q,
           (265, 4785), [-2, -1.5, -1, -0.5, 0, 0.5, 1, 1.5, 2], [-4, -3, -2, -1, 0, 1],
           [1000, 2000, 3000, 4000],
           'Effect of Tidone at Piacenza station', 'log specifci turbidity')

make_panel([0.0514, bot_b, 0.3457, bot_h], [0.4111, bot_b, 0.0184, bot_h],
           oglio_x, oglio_y, oglio_q,
           (558, 1535), [0, 0.5, 1, 1.5, 2], [-2, -1.8, -1.6, -1.4, -1.2, -1],
           [600, 800, 1000, 1200, 1400],
           'Effect of Oglio at Pontelagoscuro station', 'log specific turbidity')

make_panel([0.5871, bot_b, 0.3457, bot_h], [0.9514, bot_b, 0.0185, bot_h],
           secchia_cloud_x + secchia_x, secchia_cloud_y + secchia_y, secchia_cloud_q + secchia_q,
           (0, 8500), [-1.5, -1, -0.5, 0, 0.5, 1, 1.5, 2], [-4, -3, -2, -1, 0, 1],
           [0, 2000, 4000, 6000, 8000],
           'Effect of Secchia at Pontelagoscuro station', 'log specific turbidity')

fig.savefig('out.png', dpi=100, facecolor=fig.get_facecolor())
